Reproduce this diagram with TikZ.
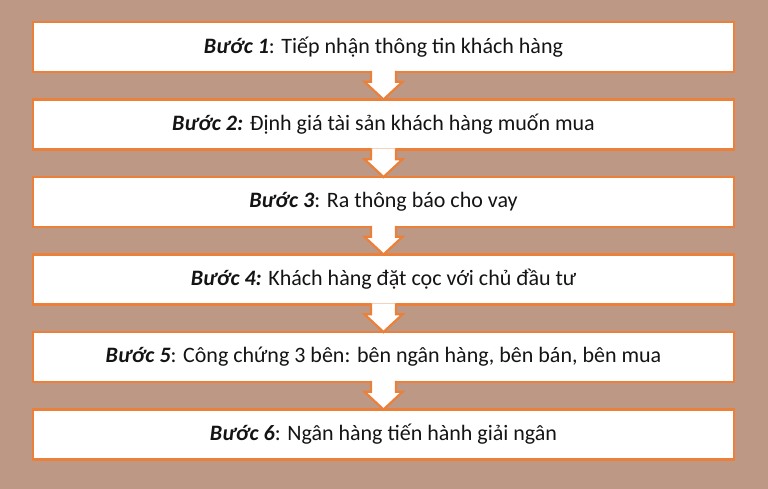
\documentclass[tikz,border=0pt]{standalone}
\usepackage{fontspec}
\setmainfont{Carlito}
\usetikzlibrary{positioning,calc}
\definecolor{tanbg}{RGB}{189,153,133}
\definecolor{boxorange}{RGB}{234,128,58}
\definecolor{darktext}{RGB}{20,20,20}
\newcommand{\buoc}[1]{\textbf{\textit{Bước #1}}}
\tikzset{stepbox/.style={
            draw=boxorange, line width=2.5pt, fill=white,
            minimum width=701pt, minimum height=50pt,
            inner sep=0pt, outer sep=0pt,
            text=darktext, font=\fontsize{22}{26}\selectfont
      },
      downarrow/.style={
            draw=boxorange, line width=2.2pt, line join=miter,
            preaction={fill=white}
      }
}
\begin{document}
\begin{tikzpicture}[x=1pt,y=-1pt]
\fill[tanbg] (0,0) rectangle (768,489);
\useasboundingbox (0,0) rectangle (768,489);
\node[stepbox] (s1) at (383.5,47) {\buoc{1}: Tiếp nhận thông tin khách hàng};
\node[stepbox, below=27.5pt of s1] (s2) {\buoc{2}\textbf{\textit{:}} Định giá tài sản khách hàng muốn mua};
\node[stepbox, below=27.5pt of s2] (s3) {\buoc{3}: Ra thông báo cho vay};
\node[stepbox, below=27.5pt of s3] (s4) {\buoc{4}\textbf{\textit{:}} Khách hàng đặt cọc với chủ đầu tư};
\node[stepbox, below=27.5pt of s4] (s5) {\buoc{5}: Công chứng 3 bên: bên ngân hàng, bên bán, bên mua};
\node[stepbox, below=27.5pt of s5] (s6) {\buoc{6}: Ngân hàng tiến hành giải ngân};
% block arrows between the steps
\foreach \i [count=\j from 2] in {1,...,5}{
  \draw[downarrow] ($(s\i.south)+(-12.5,-1.2)$) -- ++(0,11) -- ++(-6.5,0)
     -- (s\j.north) -- ($(s\i.south)+(19,9.8)$) -- ++(-6.5,0) -- ++(0,-11);
}
\end{tikzpicture}
\end{document}
